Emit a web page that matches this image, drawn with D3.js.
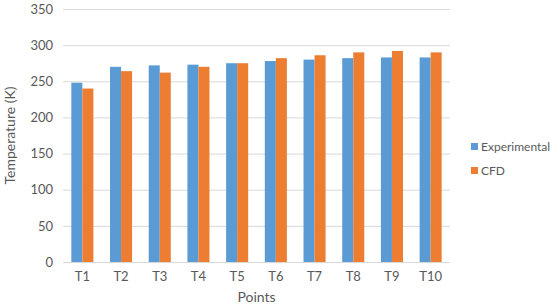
<!DOCTYPE html>
<html>
<head>
<meta charset="utf-8">
<script src="https://cdn.jsdelivr.net/npm/d3@7"></script>
<style>
  body { margin: 0; background: #fff; }
  text { font-family: Lato, "Open Sans", sans-serif; fill: #595959; }
</style>
</head>
<body>
<div id="chart"></div>
<script>
// chart data
var points = ["T1", "T2", "T3", "T4", "T5", "T6", "T7", "T8", "T9", "T10"];
var seriesNames = ["Experimental", "CFD"];
var experimental = [248, 270, 272, 273, 275, 278, 280, 282, 283, 283];
var cfd = [240, 264, 262, 270, 275, 282, 286, 290, 292, 290];
var yTicks = [0, 50, 100, 150, 200, 250, 300, 350];
var colors = ["#5b9bd5", "#ed7d31"];

var svgWidth = 550;
var svgHeight = 307;
var margin = { top: 9, right: 100, bottom: 45, left: 63 };
var width = svgWidth - margin.left - margin.right;
var height = svgHeight - margin.top - margin.bottom;

var svg = d3.select("#chart")
  .append("svg")
  .attr("width", svgWidth)
  .attr("height", svgHeight);

var chartGroup = svg.append("g")
  .attr("transform", `translate(${margin.left}, ${margin.top})`);

// scales
var x0 = d3.scaleBand()
  .domain(points)
  .range([0, width])
  .paddingInner(0.43)
  .paddingOuter(0.215);

var x1 = d3.scaleBand()
  .domain(seriesNames)
  .range([0, x0.bandwidth()]);

var y = d3.scaleLinear()
  .domain([0, 350])
  .range([height, 0]);

// gridlines
chartGroup.append("g")
  .selectAll("line")
  .data(yTicks)
  .enter()
  .append("line")
  .attr("x1", 0)
  .attr("x2", width)
  .attr("y1", d => y(d) + 0.5)
  .attr("y2", d => y(d) + 0.5)
  .attr("stroke", "#d9d9d9")
  .attr("stroke-width", 1);

// y axis labels
var leftAxis = d3.axisLeft(y).tickValues(yTicks).tickSize(0).tickPadding(10);
var yAxis = chartGroup.append("g").call(leftAxis);
yAxis.select(".domain").remove();
yAxis.selectAll("text")
  .style("font-size", "13px")
  .style("font-family", "Lato, sans-serif")
  .attr("fill", "#595959");

// bars
var data = points.map((p, i) => ({ point: p, values: [experimental[i], cfd[i]] }));

var groups = chartGroup.selectAll(".pt")
  .data(data)
  .enter()
  .append("g")
  .attr("class", "pt")
  .attr("transform", d => `translate(${x0(d.point)}, 0)`);

groups.selectAll("rect")
  .data(d => d.values.map((v, i) => ({ name: seriesNames[i], value: v, i: i })))
  .enter()
  .append("rect")
  .attr("x", d => x1(d.name))
  .attr("y", d => y(d.value))
  .attr("width", x1.bandwidth())
  .attr("height", d => height - y(d.value))
  .attr("fill", d => colors[d.i]);

// x axis
var bottomAxis = d3.axisBottom(x0).tickSize(0).tickPadding(10);
var xAxis = chartGroup.append("g")
  .attr("transform", `translate(0, ${height})`)
  .call(bottomAxis);
xAxis.select(".domain").remove();
xAxis.selectAll("text")
  .style("font-size", "13px")
  .style("font-family", "Lato, sans-serif")
  .attr("fill", "#595959");

// axis titles
svg.append("text")
  .attr("x", margin.left + width / 2)
  .attr("y", 302)
  .attr("text-anchor", "middle")
  .style("font-size", "14px")
  .text("Points");

svg.append("text")
  .attr("transform", `translate(15, ${margin.top + height / 2}) rotate(-90)`)
  .attr("text-anchor", "middle")
  .style("font-size", "14px")
  .text("Temperature (K)");

// legend
var legend = svg.append("g")
  .attr("transform", "translate(471, 143)");

seriesNames.forEach(function(name, i) {
  legend.append("rect")
    .attr("x", 0)
    .attr("y", i * 24)
    .attr("width", 7)
    .attr("height", 7)
    .attr("fill", colors[i]);
  legend.append("text")
    .attr("x", 10)
    .attr("y", i * 24 + 8)
    .style("font-size", "12px")
    .text(name);
});
</script>
</body>
</html>
